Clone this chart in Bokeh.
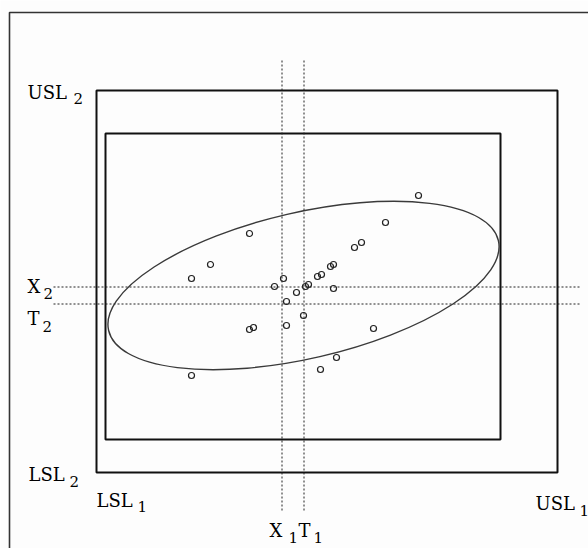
from bokeh.plotting import figure
from bokeh.models import Range1d, ColumnDataSource
from bokeh.core.properties import value
from bokeh.embed import file_html
from bokeh.resources import INLINE

# Two-variable tolerance region (process quality chart), units: drawing units, y upward
lsl_1, usl_1 = 96, 557          # specification limits, variable 1
lsl_2, usl_2 = 76, 458          # specification limits, variable 2
inner_1 = [105, 500]            # inner (modified) region, variable 1
inner_2 = [109, 415]            # inner (modified) region, variable 2
target_1, target_2 = 303, 244   # targets T1, T2
mean_1, mean_2 = 281, 261       # process means X1, X2

# Sample observations (variable 1, variable 2)
obs_1 = [418, 385, 249, 354, 361, 210, 330, 333, 317, 321, 191, 283, 274,
         305, 308, 333, 296, 286, 303, 249, 253, 286, 373, 336, 320, 191]
obs_2 = [353, 326, 315, 301, 306, 284, 282, 284, 272, 274, 270, 270, 262,
         262, 264, 260, 256, 247, 233, 219, 221, 223, 220, 191, 179, 173]

# Process ellipse (centre, full axes, tilt in degrees)
ell_center = (303, 263)
ell_axes = (400, 146)
ell_tilt = 13

W, H = 588, 548
INK = "#000000"
GREY = "#222222"
SERIF = value("DejaVu Serif")
HALF = 0.5  # centre thin lines on a pixel row/column so the dots stay crisp

p = figure(width=W, height=H, x_range=Range1d(0, W), y_range=Range1d(0, H),
           output_backend="svg", toolbar_location=None,
           x_axis_location=None, y_axis_location=None,
           min_border=0, min_border_left=0, min_border_right=0,
           min_border_top=0, min_border_bottom=0,
           background_fill_color="#fdfdfd", border_fill_color="#fdfdfd",
           outline_line_color=None)
p.xgrid.visible = False
p.ygrid.visible = False

# page frame (open on right and bottom)
p.line([9, 9, W], [0, H - 12, H - 12], line_color="#333333", line_width=1.6)

# specification box and inner box
p.quad(left=[lsl_1], right=[usl_1], bottom=[lsl_2], top=[usl_2],
       fill_alpha=0, line_color="#111111", line_width=2)
p.quad(left=[inner_1[0]], right=[inner_1[1]], bottom=[inner_2[0]], top=[inner_2[1]],
       fill_alpha=0, line_color="#111111", line_width=2)

# dotted reference lines for means and targets
for xv in (mean_1, target_1):
    p.line([xv + HALF, xv + HALF], [38, 490], line_color=GREY,
           line_width=1, line_dash="2 2")
for yv in (mean_2, target_2):
    p.line([53, 580], [yv + HALF, yv + HALF], line_color=GREY,
           line_width=1, line_dash="2 2")

# process ellipse
p.ellipse(x=[ell_center[0]], y=[ell_center[1]], width=[ell_axes[0]],
          height=[ell_axes[1]], angle=[ell_tilt], angle_units="deg",
          fill_alpha=0, line_color="#3a3a3a", line_width=1.4)

# observations
p.scatter(obs_1, obs_2, marker="circle", size=6, fill_alpha=0,
          line_color="#222222", line_width=1.2)

# labels: main text and subscripts
main = ColumnDataSource(dict(
    x=[27, 27, 27, 28, lsl_1, 269, 298, 535],
    y=[usl_2 - 2, mean_2 + 1, target_2 - 14, lsl_2 - 2, 48, 18, 18, 45],
    t=["USL", "X", "T", "LSL", "LSL", "X", "T", "USL"],
))
subs = ColumnDataSource(dict(
    x=[73, 43, 42, 69, 137, 288, 313, 579],
    y=[usl_2 - 8, mean_2 - 6, target_2 - 22, lsl_2 - 9, 42, 11, 11, 38],
    t=["2", "2", "2", "2", "1", "1", "1", "1"],
))
p.text(x="x", y="y", text="t", source=main, text_font=SERIF,
       text_font_size="18px", text_color=INK, text_align="left",
       text_baseline="alphabetic")
p.text(x="x", y="y", text="t", source=subs, text_font=SERIF,
       text_font_size="15px", text_color=INK, text_align="left",
       text_baseline="alphabetic")

open("out.html", "w").write(file_html(p, INLINE))
